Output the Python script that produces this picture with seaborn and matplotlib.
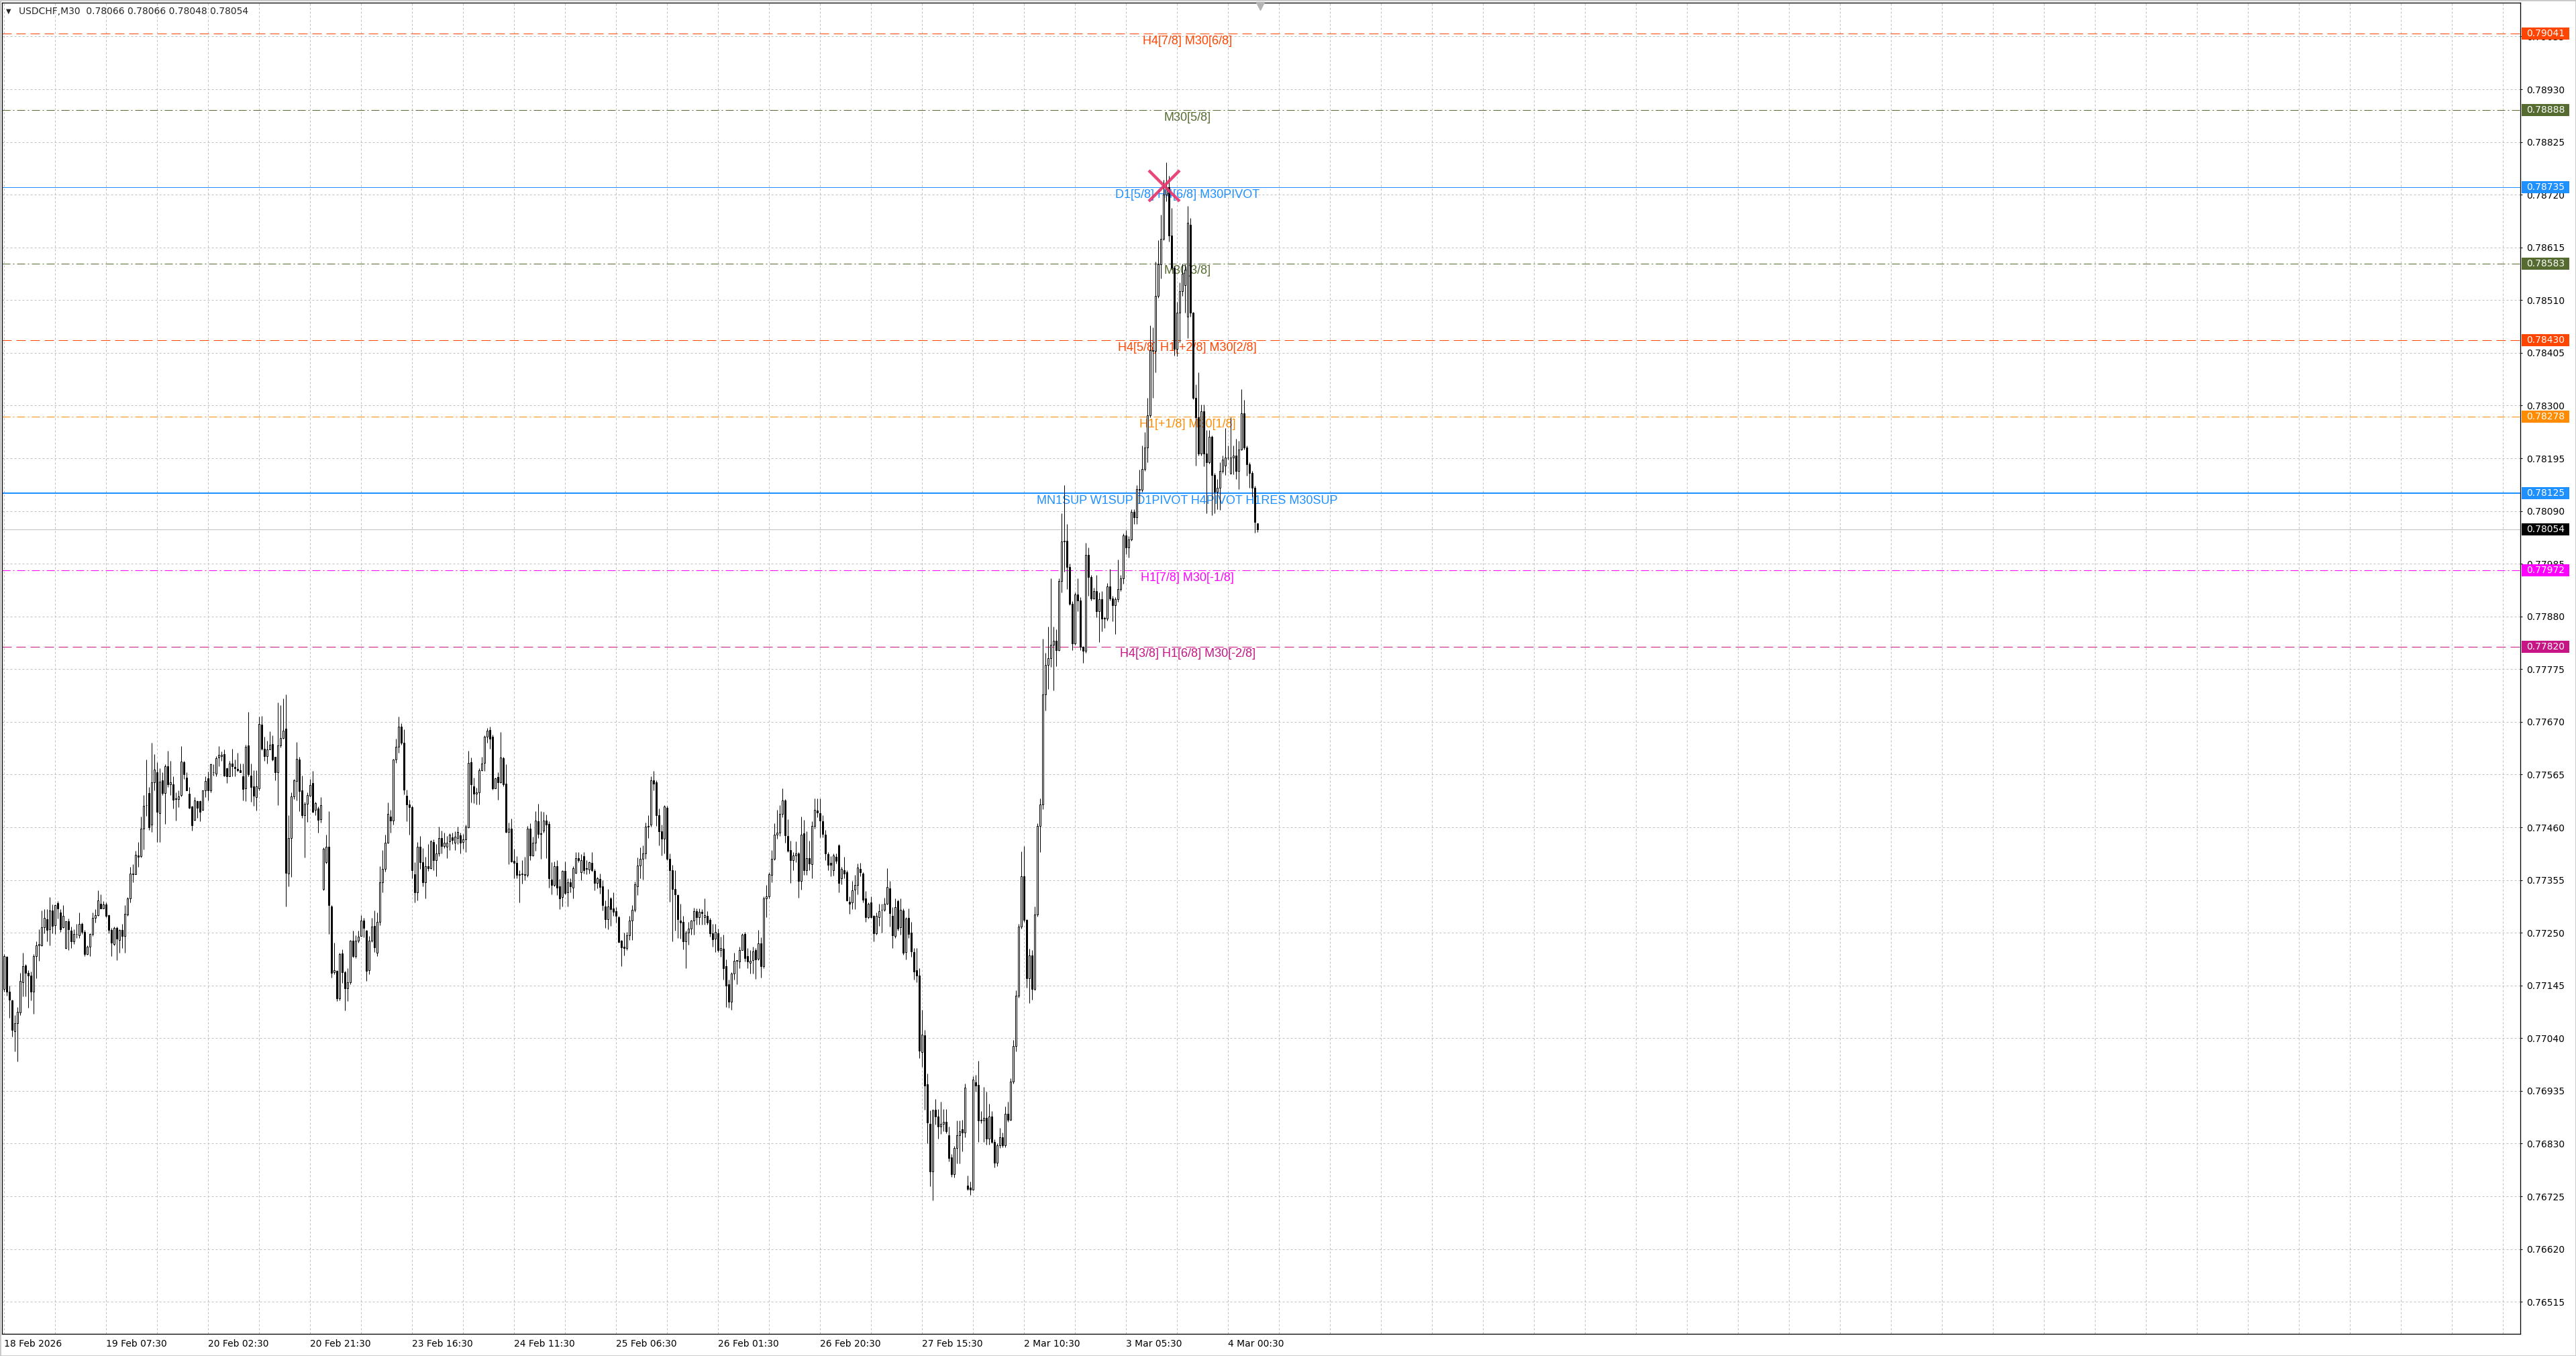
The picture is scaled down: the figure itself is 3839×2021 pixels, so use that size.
# USDCHF M30 chart with murrey-style level lines
import numpy as np
import pandas as pd
import seaborn as sns
import matplotlib.pyplot as plt
import matplotlib.transforms as mtransforms
from matplotlib.patches import Rectangle

# candle prices in points (price * 1e5), one entry per M30 bar
open_pts = [
    77138, 77202, 77133, 77115, 77054, 77070, 77091, 77152, 77185, 77170,
    77165, 77133, 77204, 77225, 77225, 77261, 77277, 77257, 77294, 77265,
    77309, 77290, 77261, 77220, 77273, 77254, 77233, 77247, 77245, 77267,
    77252, 77208, 77222, 77247, 77280, 77285, 77308, 77299, 77307, 77285,
    77256, 77228, 77259, 77236, 77256, 77244, 77286, 77318, 77367, 77367,
    77404, 77402, 77458, 77504, 77528, 77466, 77550, 77570, 77488, 77553,
    77528, 77581, 77545, 77546, 77517, 77516, 77524, 77590, 77559, 77527,
    77501, 77475, 77512, 77512, 77495, 77533, 77557, 77533, 77569, 77567,
    77599, 77602, 77606, 77577, 77562, 77587, 77580, 77576, 77574, 77561,
    77538, 77623, 77563, 77541, 77520, 77538, 77665, 77617, 77602, 77615,
    77626, 77600, 77569, 77623, 77638, 77656, 77368, 77438, 77521, 77552,
    77595, 77533, 77484, 77507, 77523, 77548, 77495, 77497, 77476, 77337,
    77390, 77421, 77303, 77171, 77174, 77119, 77209, 77172, 77139, 77152,
    77234, 77203, 77234, 77243, 77274, 77254, 77176, 77234, 77263, 77210,
    77271, 77350, 77377, 77429, 77481, 77474, 77595, 77621, 77661, 77628,
    77523, 77506, 77500, 77367, 77330, 77421, 77390, 77350, 77382, 77378,
    77431, 77394, 77408, 77438, 77422, 77421, 77432, 77440, 77429, 77438,
    77444, 77430, 77436, 77460, 77589, 77541, 77527, 77529, 77573, 77588,
    77641, 77654, 77641, 77538, 77560, 77550, 77598, 77547, 77451, 77458,
    77393, 77389, 77366, 77367, 77367, 77365, 77457, 77404, 77429, 77472,
    77448, 77453, 77474, 77467, 77356, 77345, 77382, 77343, 77321, 77373,
    77330, 77351, 77340, 77369, 77398, 77370, 77403, 77379, 77376, 77389,
    77373, 77349, 77357, 77343, 77303, 77277, 77319, 77299, 77293, 77281,
    77234, 77222, 77220, 77245, 77274, 77296, 77343, 77384, 77397, 77408,
    77461, 77465, 77553, 77549, 77484, 77452, 77437, 77499, 77397, 77374,
    77337, 77325, 77274, 77272, 77233, 77250, 77258, 77274, 77293, 77281,
    77291, 77281, 77284, 77275, 77249, 77238, 77249, 77215, 77218, 77183,
    77148, 77113, 77169, 77194, 77193, 77216, 77248, 77203, 77190, 77196,
    77215, 77198, 77229, 77183, 77319, 77322, 77365, 77397, 77445, 77449,
    77487, 77513, 77443, 77414, 77394, 77404, 77408, 77353, 77448, 77374,
    77399, 77387, 77463, 77494, 77488, 77472, 77446, 77407, 77389, 77374,
    77401, 77424, 77358, 77374, 77371, 77312, 77310, 77336, 77345, 77377,
    77368, 77318, 77281, 77310, 77283, 77249, 77281, 77295, 77296, 77308,
    77339, 77284, 77244, 77313, 77261, 77294, 77212, 77279, 77250, 77212,
    77175, 77165, 77013, 77046, 76948, 76870, 76774, 76897, 76884, 76864,
    76870, 76873, 76847, 76802, 76769, 76821, 76847, 76859, 76852, 76747,
    76742, 76739, 76952, 76947, 76876, 76876, 76881, 76840, 76884, 76833,
    76792, 76826, 76842, 76826, 76890, 76878, 76954, 77024, 77124, 77262,
    77363, 77275, 77160, 77205, 77138, 77286, 77463, 77506, 77725, 77783,
    77797, 77823, 77832, 77813, 77950, 78029, 78031, 77978, 77905, 77826,
    77924, 77912, 77819, 77811, 78002, 77959, 77916, 77931, 77890, 77914,
    77876, 77876, 77940, 77916, 77902, 77914, 77935, 77956, 78042, 78017,
    78033, 78088, 78077, 78134, 78132, 78174, 78217, 78281, 78410, 78409,
    78519, 78581, 78632, 78720, 78735, 78639, 78575, 78413, 78485, 78528,
    78540, 78477, 78660, 78485, 78315, 78277, 78204, 78288, 78204, 78187,
    78238, 78162, 78128, 78136, 78170, 78180, 78196, 78166, 78196, 78200,
    78170, 78213, 78285, 78217, 78183, 78166, 78136, 78066,
]
high_pts = [
    77207, 77204, 77144, 77117, 77086, 77102, 77170, 77210, 77187, 77175,
    77173, 77207, 77233, 77257, 77294, 77297, 77297, 77321, 77307, 77307,
    77313, 77297, 77305, 77273, 77278, 77262, 77257, 77268, 77290, 77270,
    77255, 77225, 77249, 77290, 77297, 77335, 77326, 77313, 77310, 77286,
    77260, 77262, 77262, 77257, 77268, 77305, 77321, 77381, 77387, 77413,
    77430, 77482, 77524, 77595, 77540, 77629, 77606, 77590, 77577, 77569,
    77585, 77612, 77592, 77561, 77529, 77534, 77622, 77592, 77569, 77540,
    77503, 77520, 77513, 77513, 77534, 77562, 77571, 77587, 77585, 77602,
    77622, 77611, 77615, 77579, 77592, 77616, 77595, 77608, 77587, 77587,
    77624, 77690, 77587, 77574, 77574, 77680, 77682, 77640, 77632, 77651,
    77643, 77600, 77709, 77703, 77717, 77724, 77484, 77529, 77556, 77630,
    77600, 77563, 77511, 77529, 77556, 77572, 77511, 77502, 77520, 77420,
    77446, 77492, 77305, 77230, 77176, 77210, 77217, 77174, 77179, 77235,
    77254, 77245, 77254, 77285, 77279, 77256, 77243, 77279, 77294, 77290,
    77383, 77414, 77445, 77510, 77495, 77596, 77637, 77680, 77667, 77655,
    77535, 77515, 77503, 77390, 77430, 77443, 77419, 77401, 77426, 77435,
    77436, 77426, 77461, 77453, 77450, 77443, 77448, 77450, 77452, 77462,
    77450, 77447, 77466, 77612, 77599, 77559, 77539, 77578, 77601, 77643,
    77658, 77661, 77645, 77559, 77570, 77650, 77601, 77586, 77470, 77477,
    77417, 77403, 77374, 77394, 77401, 77463, 77468, 77441, 77492, 77507,
    77492, 77491, 77486, 77472, 77390, 77392, 77394, 77357, 77374, 77392,
    77359, 77359, 77383, 77410, 77411, 77406, 77410, 77394, 77392, 77410,
    77377, 77361, 77368, 77354, 77315, 77337, 77321, 77330, 77301, 77283,
    77235, 77250, 77252, 77283, 77305, 77352, 77400, 77420, 77424, 77469,
    77484, 77561, 77572, 77553, 77498, 77466, 77504, 77503, 77408, 77385,
    77374, 77327, 77308, 77284, 77254, 77272, 77275, 77300, 77299, 77299,
    77297, 77318, 77293, 77279, 77267, 77268, 77258, 77242, 77246, 77197,
    77157, 77171, 77210, 77196, 77222, 77249, 77252, 77219, 77215, 77222,
    77219, 77255, 77241, 77322, 77345, 77370, 77414, 77468, 77495, 77504,
    77538, 77516, 77476, 77433, 77411, 77432, 77411, 77481, 77475, 77452,
    77433, 77472, 77517, 77517, 77517, 77484, 77455, 77411, 77403, 77408,
    77408, 77426, 77381, 77401, 77374, 77322, 77353, 77365, 77388, 77389,
    77370, 77333, 77310, 77322, 77285, 77290, 77308, 77308, 77320, 77378,
    77353, 77301, 77318, 77316, 77318, 77299, 77281, 77299, 77272, 77219,
    77219, 77180, 77096, 77057, 76969, 76896, 76899, 76919, 76899, 76914,
    76899, 76899, 76864, 76809, 76825, 76876, 76876, 76878, 76950, 76766,
    76754, 76964, 76967, 76995, 76895, 76943, 76933, 76909, 76895, 76838,
    76830, 76862, 76852, 76904, 76914, 76960, 77036, 77135, 77267, 77412,
    77422, 77277, 77218, 77215, 77303, 77468, 77517, 77835, 77807, 77859,
    77956, 77859, 77854, 77956, 78086, 78141, 78064, 77985, 77910, 77928,
    77956, 77918, 77821, 78026, 78017, 77962, 77937, 77962, 77928, 77931,
    77880, 77947, 77975, 77921, 77918, 77993, 77962, 78045, 78052, 78040,
    78093, 78093, 78141, 78172, 78221, 78247, 78315, 78460, 78456, 78586,
    78630, 78680, 78749, 78785, 78758, 78694, 78579, 78507, 78545, 78583,
    78581, 78698, 78673, 78487, 78342, 78366, 78302, 78302, 78251, 78251,
    78240, 78166, 78153, 78187, 78200, 78255, 78221, 78277, 78221, 78234,
    78230, 78332, 78311, 78221, 78187, 78169, 78140, 78066,
]
low_pts = [
    77133, 77125, 77080, 77043, 77014, 76993, 77086, 77123, 77123, 77101,
    77115, 77088, 77160, 77194, 77223, 77249, 77233, 77225, 77249, 77247,
    77278, 77252, 77260, 77218, 77215, 77220, 77228, 77239, 77239, 77247,
    77204, 77206, 77204, 77244, 77270, 77284, 77298, 77298, 77281, 77249,
    77203, 77225, 77195, 77210, 77220, 77210, 77284, 77310, 77350, 77366,
    77381, 77400, 77416, 77483, 77455, 77451, 77534, 77431, 77431, 77524,
    77467, 77540, 77524, 77497, 77474, 77500, 77521, 77556, 77533, 77497,
    77453, 77474, 77479, 77472, 77493, 77520, 77514, 77529, 77563, 77562,
    77582, 77592, 77562, 77548, 77561, 77561, 77561, 77571, 77569, 77513,
    77512, 77561, 77511, 77503, 77494, 77534, 77614, 77592, 77587, 77615,
    77592, 77553, 77504, 77619, 77637, 77302, 77342, 77361, 77516, 77513,
    77492, 77479, 77400, 77471, 77521, 77490, 77484, 77450, 77469, 77335,
    77388, 77248, 77161, 77168, 77114, 77115, 77150, 77095, 77114, 77147,
    77201, 77199, 77230, 77243, 77241, 77154, 77168, 77232, 77212, 77203,
    77265, 77330, 77372, 77428, 77449, 77465, 77588, 77608, 77625, 77525,
    77472, 77445, 77359, 77310, 77314, 77377, 77343, 77318, 77373, 77377,
    77374, 77362, 77403, 77408, 77419, 77399, 77414, 77426, 77414, 77426,
    77408, 77417, 77410, 77459, 77510, 77508, 77506, 77506, 77572, 77572,
    77628, 77617, 77535, 77537, 77515, 77548, 77542, 77450, 77386, 77391,
    77359, 77358, 77310, 77348, 77354, 77361, 77394, 77402, 77413, 77439,
    77397, 77449, 77399, 77340, 77327, 77343, 77325, 77297, 77302, 77327,
    77302, 77330, 77318, 77368, 77390, 77354, 77368, 77366, 77368, 77372,
    77334, 77339, 77328, 77294, 77259, 77257, 77263, 77283, 77270, 77230,
    77184, 77205, 77216, 77235, 77235, 77292, 77325, 77358, 77356, 77397,
    77439, 77461, 77533, 77463, 77424, 77404, 77408, 77394, 77312, 77233,
    77254, 77239, 77238, 77217, 77179, 77226, 77246, 77246, 77266, 77266,
    77266, 77266, 77266, 77242, 77222, 77212, 77212, 77202, 77157, 77102,
    77100, 77096, 77157, 77148, 77180, 77215, 77193, 77180, 77169, 77169,
    77158, 77196, 77161, 77180, 77281, 77319, 77351, 77394, 77437, 77443,
    77480, 77429, 77411, 77349, 77374, 77391, 77320, 77336, 77365, 77365,
    77375, 77358, 77458, 77480, 77440, 77440, 77395, 77375, 77362, 77364,
    77388, 77330, 77346, 77358, 77313, 77287, 77297, 77297, 77326, 77362,
    77310, 77272, 77278, 77279, 77233, 77246, 77264, 77250, 77293, 77306,
    77262, 77219, 77239, 77254, 77246, 77206, 77197, 77239, 77202, 77157,
    77151, 77000, 76983, 76897, 76830, 76745, 76717, 76868, 76840, 76849,
    76855, 76851, 76795, 76764, 76763, 76790, 76790, 76814, 76842, 76737,
    76728, 76737, 76933, 76833, 76871, 76833, 76828, 76828, 76830, 76782,
    76785, 76821, 76823, 76823, 76874, 76876, 76950, 77014, 77120, 77258,
    77272, 77141, 77110, 77116, 77135, 77282, 77410, 77496, 77692, 77735,
    77780, 77733, 77781, 77811, 77928, 77969, 77935, 77902, 77813, 77823,
    77890, 77813, 77787, 77807, 77921, 77912, 77914, 77878, 77829, 77850,
    77857, 77872, 77912, 77870, 77845, 77909, 77931, 77945, 78004, 77997,
    78031, 78064, 78064, 78106, 78128, 78170, 78187, 78277, 78315, 78366,
    78515, 78553, 78630, 78707, 78626, 78571, 78400, 78398, 78426, 78519,
    78485, 78434, 78477, 78313, 78180, 78200, 78200, 78179, 78085, 78185,
    78081, 78085, 78094, 78092, 78165, 78162, 78192, 78163, 78163, 78153,
    78134, 78211, 78213, 78160, 78136, 78119, 78047, 78048,
]
close_pts = [
    77204, 77133, 77117, 77057, 77070, 77093, 77154, 77183, 77170, 77165,
    77133, 77204, 77225, 77227, 77261, 77280, 77256, 77294, 77264, 77305,
    77299, 77257, 77284, 77273, 77257, 77233, 77248, 77247, 77268, 77252,
    77207, 77222, 77247, 77280, 77285, 77314, 77299, 77307, 77284, 77255,
    77230, 77259, 77238, 77255, 77244, 77287, 77318, 77368, 77368, 77405,
    77401, 77458, 77503, 77504, 77460, 77550, 77575, 77491, 77551, 77528,
    77581, 77545, 77549, 77515, 77516, 77521, 77591, 77565, 77534, 77499,
    77464, 77513, 77499, 77491, 77533, 77552, 77533, 77585, 77569, 77598,
    77604, 77605, 77563, 77562, 77587, 77582, 77577, 77573, 77570, 77536,
    77620, 77565, 77540, 77523, 77541, 77666, 77616, 77602, 77615, 77625,
    77595, 77570, 77623, 77638, 77652, 77369, 77439, 77521, 77553, 77596,
    77532, 77484, 77507, 77524, 77544, 77491, 77508, 77475, 77504, 77417,
    77421, 77305, 77170, 77175, 77119, 77208, 77172, 77139, 77152, 77234,
    77203, 77234, 77242, 77274, 77259, 77174, 77234, 77262, 77221, 77272,
    77350, 77377, 77429, 77487, 77474, 77595, 77621, 77661, 77628, 77535,
    77506, 77500, 77374, 77330, 77421, 77390, 77350, 77383, 77378, 77432,
    77394, 77408, 77439, 77423, 77429, 77429, 77445, 77434, 77441, 77451,
    77429, 77436, 77461, 77588, 77545, 77527, 77529, 77573, 77587, 77641,
    77653, 77637, 77538, 77557, 77550, 77599, 77546, 77451, 77458, 77392,
    77389, 77365, 77365, 77367, 77365, 77457, 77404, 77429, 77474, 77447,
    77447, 77474, 77466, 77358, 77345, 77383, 77340, 77319, 77373, 77329,
    77351, 77342, 77379, 77399, 77395, 77394, 77374, 77377, 77391, 77374,
    77349, 77358, 77341, 77305, 77277, 77302, 77297, 77292, 77283, 77232,
    77221, 77219, 77245, 77274, 77296, 77346, 77384, 77397, 77408, 77461,
    77463, 77553, 77547, 77484, 77452, 77437, 77501, 77397, 77374, 77337,
    77326, 77277, 77270, 77233, 77250, 77258, 77274, 77293, 77281, 77291,
    77289, 77285, 77270, 77249, 77237, 77252, 77216, 77219, 77180, 77145,
    77113, 77169, 77194, 77194, 77216, 77246, 77200, 77193, 77194, 77213,
    77197, 77229, 77184, 77319, 77322, 77366, 77397, 77446, 77449, 77487,
    77513, 77444, 77413, 77395, 77404, 77408, 77353, 77446, 77374, 77399,
    77388, 77463, 77495, 77490, 77474, 77447, 77408, 77385, 77385, 77404,
    77393, 77349, 77377, 77368, 77314, 77308, 77335, 77345, 77380, 77370,
    77316, 77281, 77308, 77281, 77249, 77283, 77293, 77296, 77308, 77341,
    77289, 77245, 77301, 77258, 77296, 77210, 77278, 77248, 77213, 77173,
    77165, 77015, 77047, 76945, 76872, 76774, 76896, 76884, 76864, 76870,
    76874, 76855, 76801, 76769, 76821, 76847, 76855, 76852, 76941, 76740,
    76739, 76957, 76945, 76876, 76878, 76881, 76840, 76884, 76833, 76792,
    76826, 76842, 76826, 76890, 76878, 76954, 77024, 77124, 77262, 77363,
    77275, 77160, 77205, 77138, 77286, 77463, 77506, 77725, 77783, 77797,
    77823, 77832, 77813, 77950, 78029, 78031, 77978, 77905, 77826, 77924,
    77912, 77819, 77811, 78002, 77959, 77916, 77931, 77890, 77914, 77876,
    77876, 77940, 77916, 77902, 77914, 77935, 77956, 78042, 78017, 78033,
    78088, 78077, 78134, 78132, 78174, 78217, 78281, 78410, 78409, 78519,
    78581, 78632, 78720, 78735, 78639, 78575, 78413, 78485, 78528, 78562,
    78570, 78664, 78485, 78315, 78277, 78204, 78288, 78204, 78187, 78238,
    78162, 78128, 78136, 78170, 78192, 78196, 78197, 78196, 78200, 78170,
    78213, 78285, 78217, 78183, 78166, 78136, 78068, 78054,
]

time_labels = [
    "18 Feb 2026", "19 Feb 07:30", "20 Feb 02:30", "20 Feb 21:30",
    "23 Feb 16:30", "24 Feb 11:30", "25 Feb 06:30", "26 Feb 01:30",
    "26 Feb 20:30", "27 Feb 15:30", "2 Mar 10:30", "3 Mar 05:30", "4 Mar 00:30",
]

level_prices = [0.79041, 0.78888, 0.78735, 0.78583, 0.78430,
                0.78278, 0.78125, 0.77972, 0.77820]
level_texts = [
    "H4[7/8] M30[6/8]",
    "M30[5/8]",
    "D1[5/8] H4[6/8] M30PIVOT",
    "M30[3/8]",
    "H4[5/8] H1[+2/8] M30[2/8]",
    "H1[+1/8] M30[1/8]",
    "MN1SUP W1SUP D1PIVOT H4PIVOT H1RES M30SUP",
    "H1[7/8] M30[-1/8]",
    "H4[3/8] H1[6/8] M30[-2/8]",
]
level_colors = ["#FF4500", "#556B2F", "#1E90FF", "#556B2F", "#FF4500",
                "#FF8C00", "#1E90FF", "#FF00FF", "#C71585"]
level_kinds = ["dash", "dashdot", "solid", "dashdot", "dash",
               "dashdot", "solid_wide", "dashdot", "dash"]

bid_price = 0.78054
marker_bar, marker_price = 432.3, 0.78737
header = "USDCHF,M30  0.78066 0.78066 0.78048 0.78054"

W, H = 3839, 2021
PX = 72 / 100          # one pixel in points
BAR_PX = 4.0           # horizontal pixels per bar
Y_TOP, Y_BOT = 0.791024, 0.764511

LINESTYLES = {
    "dash": ((0, (14, 7)), 1),
    "dashdot": ((0, (12, 4, 2, 4)), 1),
    "solid": ("-", 1),
    "solid_wide": ("-", 2),
}

sns.set_style("white")
plt.rcParams["font.family"] = ["DejaVu Sans"]

df = pd.DataFrame({
    "open": np.array(open_pts) / 1e5,
    "high": np.array(high_pts) / 1e5,
    "low": np.array(low_pts) / 1e5,
    "close": np.array(close_pts) / 1e5,
})
df["bar"] = np.arange(len(df))
df["high"] = df[["high", "open", "close"]].max(axis=1)
df["low"] = df[["low", "open", "close"]].min(axis=1)
up = df["close"] >= df["open"]

fig = plt.figure(figsize=(W / 100, H / 100), dpi=100)
ax = fig.add_axes([3 / W, 33 / H, 3753 / W, 1984 / H])
ax.set_xlim(-2.7 / BAR_PX, (3753 - 2.7) / BAR_PX)
ax.set_ylim(Y_BOT, Y_TOP)
px_per_price = 1984 / (Y_TOP - Y_BOT)

# dashed grid
price_ticks = np.round(0.76515 + 0.00105 * np.arange(25), 5)
for b in range(0, 940, 19):
    ax.axvline(b, color="#C0C0C0", lw=PX, ls=(0, (3, 3)), zorder=0)
for p in price_ticks:
    ax.axhline(p, color="#C0C0C0", lw=PX, ls=(0, (3, 3)), zorder=0)

# level lines and captions
for p, txt, c, kind in zip(level_prices, level_texts, level_colors, level_kinds):
    ls, w = LINESTYLES[kind]
    ax.axhline(p, color=c, lw=w * PX, ls=ls, zorder=1)
    ax.annotate(txt, xy=(441, p), xytext=(0, -2), textcoords="offset points",
                ha="center", va="top", color=c, fontsize=13,
                family=["Liberation Sans", "DejaVu Sans"], zorder=2)
ax.axhline(bid_price, color="#C0C0C0", lw=PX, zorder=1)

# candles
ax.vlines(df["bar"], df["low"], df["high"], color="black", lw=PX, zorder=3)
body_bottom = df[["open", "close"]].min(axis=1)
body_height = (df["close"] - df["open"]).abs().clip(lower=0.000008)
ax.bar(df["bar"][up], body_height[up], bottom=body_bottom[up], width=0.5,
       facecolor="white", edgecolor="black", lw=PX, zorder=4)
ax.bar(df["bar"][~up], body_height[~up], bottom=body_bottom[~up], width=0.5,
       facecolor="black", edgecolor="black", lw=PX, zorder=4)

# cross at the high
ax.plot([marker_bar], [marker_price], marker="x", ms=33, mew=3.2,
        color="#E5336A", alpha=0.9, zorder=6)

# shift marker at top
ax.plot([468], [Y_TOP - 5 / px_per_price], marker="v", ms=9,
        color="#B4B4B4", clip_on=False, zorder=6)

# axes look
for s in ax.spines.values():
    s.set_color("black")
    s.set_linewidth(1.3 * PX)
ax.yaxis.tick_right()
ax.set_yticks(price_ticks)
ax.set_yticklabels([f"{t:.5f}" for t in price_ticks])
ax.tick_params(axis="y", length=3 * PX, width=PX, pad=6 * PX,
               labelsize=10, colors="black")
ax.set_xticks(np.arange(len(time_labels)) * 38)
ax.set_xticklabels(time_labels)
for lab in ax.get_xticklabels():
    lab.set_ha("left")
ax.tick_params(axis="x", length=4 * PX, width=PX, pad=4 * PX,
               labelsize=10, colors="black")

# price boxes on the right axis
trans = mtransforms.blended_transform_factory(ax.transAxes, ax.transData)
box_h = 18 / px_per_price
box_prices = level_prices + [bid_price]
box_colors = level_colors + ["black"]
for p, c in zip(box_prices, box_colors):
    ax.add_patch(Rectangle((1 + 2 / 3753, p - box_h / 2), 71 / 3753, box_h,
                           transform=trans, facecolor=c, edgecolor="none",
                           clip_on=False, zorder=10))
    ax.text(1 + 9 / 3753, p, f"{p:.5f}", transform=trans, color="white",
            fontsize=10, ha="left", va="center", clip_on=False, zorder=11)

# header line
fig.text(9 / W, 1 - 17 / H, "\u25bc", fontsize=7, ha="left", va="center")
fig.text(28 / W, 1 - 17 / H, header, fontsize=10, ha="left", va="center")

fig.add_artist(Rectangle((0, 0), 1, 1, transform=fig.transFigure, fill=False,
                         edgecolor="#C8C8C8", lw=2))

fig.savefig("out.png", dpi=100, facecolor="white")
